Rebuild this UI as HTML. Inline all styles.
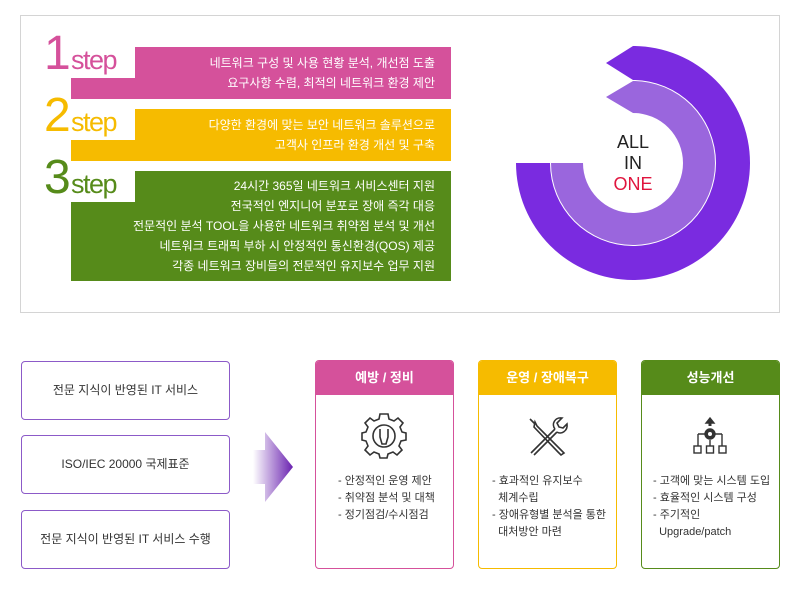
<!DOCTYPE html>
<html><head><meta charset="utf-8"><style>
*{margin:0;padding:0;box-sizing:border-box}
body{width:800px;height:596px;background:#fff;position:relative;overflow:hidden;font-family:"Liberation Sans","Noto Sans CJK KR",sans-serif;color:#333}
.a{position:absolute}
.panel{left:20px;top:15px;width:760px;height:298px;border:1px solid #d4d4d4}
.bar{left:71px;width:380px;color:#fff;font-size:12px;line-height:20px;text-align:right;padding-right:16px}
.notch{background:#fff;left:71px;width:64px}
.num{font-size:48px;line-height:48px;letter-spacing:-2px}
.st{font-size:27px;letter-spacing:-1.5px;line-height:28px}
.box{left:21px;width:209px;height:59px;border:1px solid #8c5ac8;border-radius:4px;font-size:12px;text-align:center;line-height:57px;color:#333}
.card{top:360px;width:139px;height:209px;border:1px solid;border-radius:4px;overflow:hidden}
.card .h{height:34px;color:#fff;font-size:13px;text-align:center;line-height:34px;font-weight:bold}
.card ul{list-style:none;position:absolute;top:112px;font-size:11px;line-height:17px;color:#333}
</style></head><body>
<div class="a panel"></div>

<div class="a bar" style="top:47px;height:52px;background:#d5519b;padding-top:6px">네트워크 구성 및 사용 현황 분석, 개선점 도출<br>요구사항 수렴, 최적의 네트워크 환경 제안</div>
<div class="a notch" style="top:46px;height:32px"></div>
<div class="a num" style="left:44px;top:30px;color:#d5519b">1</div>
<div class="a st" style="left:71px;top:46px;color:#d5519b">step</div>

<div class="a bar" style="top:109px;height:52px;background:#f6bb00;padding-top:6px">다양한 환경에 맞는 보안 네트워크 솔루션으로<br>고객사 인프라 환경 개선 및 구축</div>
<div class="a notch" style="top:108px;height:32px"></div>
<div class="a num" style="left:44px;top:92px;color:#f6bb00">2</div>
<div class="a st" style="left:71px;top:108px;color:#f6bb00">step</div>

<div class="a bar" style="top:171px;height:110px;background:#568b1a;padding-top:5px">24시간 365일 네트워크 서비스센터 지원<br>전국적인 엔지니어 분포로 장애 즉각 대응<br>전문적인 분석 TOOL을 사용한 네트워크 취약점 분석 및 개선<br>네트워크 트래픽 부하 시 안정적인 통신환경(QOS) 제공<br>각종 네트워크 장비들의 전문적인 유지보수 업무 지원</div>
<div class="a notch" style="top:170px;height:32px"></div>
<div class="a num" style="left:44px;top:154px;color:#568b1a">3</div>
<div class="a st" style="left:71px;top:170px;color:#568b1a">step</div>

<svg class="a" style="left:0;top:0" width="800" height="596">
<path d="M516,163 A117,117 0 1 0 633,46 L606,63 L633,80 A83,83 0 1 1 550,163 Z" fill="#7a2be0"/>
<path d="M551,163 A82,82 0 1 0 633,81 L606,97 L633,113 A50,50 0 1 1 583,163 Z" fill="#9a66dd"/>
<text x="633" y="148" text-anchor="middle" font-size="18" fill="#222" font-family="Liberation Sans">ALL</text>
<text x="633" y="169" text-anchor="middle" font-size="18" fill="#222" font-family="Liberation Sans">IN</text>
<text x="633" y="190" text-anchor="middle" font-size="18" fill="#e0153e" font-family="Liberation Sans">ONE</text>
<defs><linearGradient id="g" x1="0" x2="1"><stop offset="0" stop-color="#fff"/><stop offset="1" stop-color="#6a22b0"/></linearGradient></defs>
<path d="M253,450 L265,450 L265,432 L293,467 L265,502 L265,484 L253,484 Z" fill="url(#g)"/>
<!-- gear -->
<g transform="translate(384,436)" fill="none" stroke="#333" stroke-width="1.6">
<path d="M-4,-20 L4,-20 L5,-15 L10,-13 L14,-16 L19,-11 L16,-7 L18,-2 L22,-1 L22,6 L17,7 L15,12 L18,16 L13,21 L9,18 L4,20 L3,24 L-4,24 L-5,20 L-10,18 L-14,21 L-19,16 L-16,12 L-18,7 L-22,6 L-22,-1 L-18,-2 L-16,-7 L-19,-11 L-14,-16 L-10,-13 L-5,-15 Z" transform="translate(0,-2)"/>
<circle cx="0" cy="0" r="11"/>
<path d="M-4,-7 L-4,1 L-2,8 L2,8 L4,1 L4,-7"/>
</g>
<!-- tools -->
<g transform="translate(547,436)" fill="none" stroke="#333" stroke-width="1.6">
<path d="M-17,-17 L-12,-12 M-12,-14 L-10,-10 L14,14 L17,17 L14,19 L11,16 L-13,-9 Z"/>
<path d="M-16,17 L8,-7 M-13,19 L10,-4"/>
<path d="M8,-7 C4,-12 8,-19 15,-18 L10,-13 L12,-9 L16,-8 L20,-12 C21,-5 14,-1 10,-4"/>
</g>
<!-- hierarchy -->
<g transform="translate(710,436)" fill="none" stroke="#333" stroke-width="1.4">
<path d="M0,-17 L0,-10" stroke-width="3"/><path d="M-4,-13 L0,-18 L4,-13 Z" fill="#333"/>
<circle cx="0" cy="-2" r="5" fill="#333"/><circle cx="0" cy="-2" r="2" fill="#fff" stroke="none"/>
<path d="M-12,-2 L-5,-2 M5,-2 L12,-2 M-12,-2 L-12,10 M12,-2 L12,10 M0,4 L0,10"/>
<rect x="-16" y="10" width="7" height="7"/><rect x="-3.5" y="10" width="7" height="7"/><rect x="9" y="10" width="7" height="7"/>
</g>
</svg>

<div class="a box" style="top:361px">전문 지식이 반영된 IT 서비스</div>
<div class="a box" style="top:435px">ISO/IEC 20000 국제표준</div>
<div class="a box" style="top:510px">전문 지식이 반영된 IT 서비스 수행</div>

<div class="a card" style="left:315px;border-color:#d5519b"><div class="h" style="background:#d5519b">예방 / 정비</div>
<ul style="left:22px"><li>- 안정적인 운영 제안</li><li>- 취약점 분석 및 대책</li><li>- 정기점검/수시점검</li></ul></div>
<div class="a card" style="left:478px;border-color:#f6bb00"><div class="h" style="background:#f6bb00">운영 / 장애복구</div>
<ul style="left:13px"><li>- 효과적인 유지보수</li><li>&nbsp;&nbsp;체계수립</li><li>- 장애유형별 분석을 통한</li><li>&nbsp;&nbsp;대처방안 마련</li></ul></div>
<div class="a card" style="left:641px;border-color:#568b1a"><div class="h" style="background:#568b1a">성능개선</div>
<ul style="left:11px"><li>- 고객에 맞는 시스템 도입</li><li>- 효율적인 시스템 구성</li><li>- 주기적인</li><li>&nbsp;&nbsp;Upgrade/patch</li></ul></div>
</body></html>
